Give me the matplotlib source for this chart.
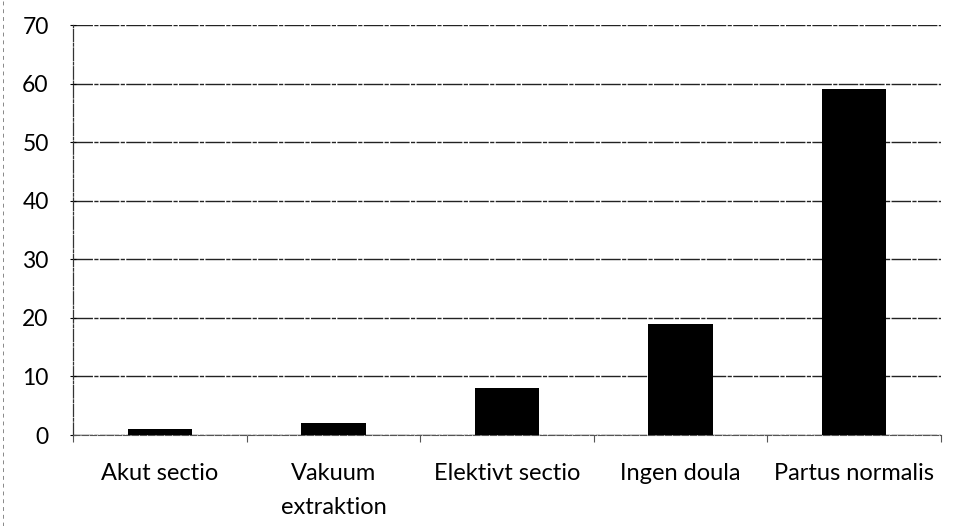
import matplotlib
matplotlib.use("Agg")
from matplotlib import pyplot as plt
from matplotlib.lines import Line2D
import numpy as np

# bar chart data
categories = ["Akut sectio", "Vakuum\nextraktion", "Elektivt sectio", "Ingen doula", "Partus normalis"]
values = [1, 2, 8, 19, 59]
y_ticks = [0, 10, 20, 30, 40, 50, 60, 70]

plt.rcParams['font.family'] = ['Lato', 'DejaVu Sans']

fig = plt.figure(figsize=(9.59, 5.26), dpi=100)
ax = fig.add_axes([73 / 959, 1 - 435 / 526, (941 - 73) / 959, (435 - 25) / 526])

x = np.arange(len(categories))
ax.bar(x, values, width=0.37, color='black', zorder=3)

ax.set_xlim(-0.5, len(categories) - 0.5)
ax.set_ylim(0, 70)
ax.set_yticks(y_ticks)
ax.set_yticklabels([str(v) for v in y_ticks], fontsize=16.5)

# category labels centred, ticks at the boundaries
ax.set_xticks(x)
ax.set_xticklabels(categories, fontsize=17, linespacing=1.75, va='top')
ax.set_xticks(np.arange(-0.5, len(categories)), minor=True)
ax.tick_params(axis='x', which='major', length=0, pad=20)
ax.tick_params(axis='x', which='minor', length=5, direction='out', width=0.8, color='#555555')
ax.tick_params(axis='y', length=5, direction='inout', width=0.8, pad=15)

ax.grid(axis='y', color='#222222', linewidth=1.0, linestyle=(0, (14, 1, 3, 1)), zorder=0)
for side in ['top', 'right']:
    ax.spines[side].set_visible(False)
ax.spines['bottom'].set_color('#555555')
ax.spines['bottom'].set_linestyle((0, (6, 1.5)))
ax.spines['left'].set_color('#333333')
ax.spines['left'].set_linestyle((0, (10, 1.5, 2, 1.5)))
ax.spines['left'].set_linewidth(0.9)

# faint scanned page edge on the left
fig.add_artist(Line2D([3 / 959, 3 / 959], [0, 1], transform=fig.transFigure,
                      color='#888888', linewidth=0.7, linestyle=(0, (4, 4))))

plt.savefig("out.png", dpi=100, facecolor='white')
